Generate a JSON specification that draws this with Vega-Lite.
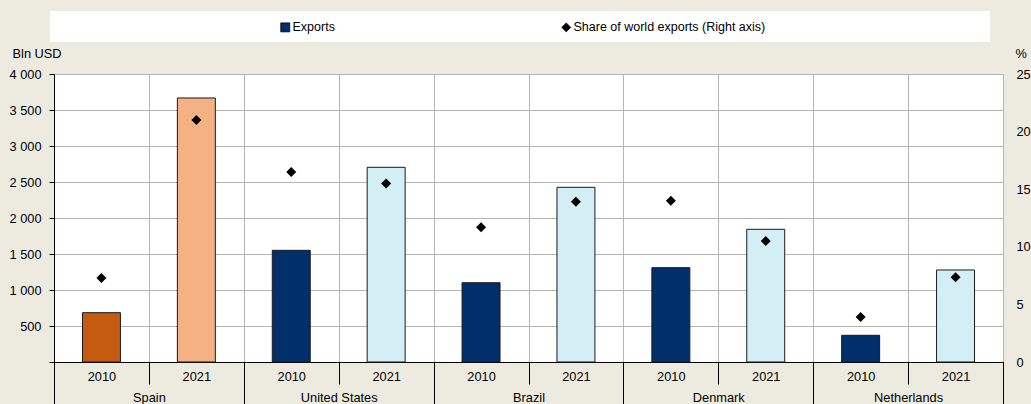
{
  "$schema": "https://vega.github.io/schema/vega-lite/v6.json",
  "width": 949,
  "height": 288,
  "autosize": {"type": "none"},
  "padding": {"left": 54, "top": 74, "right": 28, "bottom": 42},
  "background": "#EDEBE0",
  "config": {
    "font": "Liberation Sans",
    "view": {"fill": "white", "stroke": "#A6A6A6", "strokeWidth": 1},
    "axis": {"labelFont": "Liberation Sans", "labelFontSize": 12.8, "labelColor": "#000", "titleFont": "Liberation Sans", "titleFontSize": 12.8, "titleFontWeight": "normal", "titleColor": "#000"}
  },
  "data": {"values": [
    {"country": "Spain", "year": "2010", "key": "Spain|2010", "cat": "Spain 2010", "exports": 685, "share": 7.3},
    {"country": "Spain", "year": "2021", "key": "Spain|2021", "cat": "Spain 2021", "exports": 3667, "share": 21.0},
    {"country": "United States", "year": "2010", "key": "United States|2010", "cat": "2010", "exports": 1551, "share": 16.5},
    {"country": "United States", "year": "2021", "key": "United States|2021", "cat": "2021", "exports": 2704, "share": 15.5},
    {"country": "Brazil", "year": "2010", "key": "Brazil|2010", "cat": "2010", "exports": 1101, "share": 11.7},
    {"country": "Brazil", "year": "2021", "key": "Brazil|2021", "cat": "2021", "exports": 2426, "share": 13.9},
    {"country": "Denmark", "year": "2010", "key": "Denmark|2010", "cat": "2010", "exports": 1310, "share": 14.0},
    {"country": "Denmark", "year": "2021", "key": "Denmark|2021", "cat": "2021", "exports": 1843, "share": 10.5},
    {"country": "Netherlands", "year": "2010", "key": "Netherlands|2010", "cat": "2010", "exports": 371, "share": 3.9},
    {"country": "Netherlands", "year": "2021", "key": "Netherlands|2021", "cat": "2021", "exports": 1278, "share": 7.35}
  ]},
  "layer": [
    {
      "mark": {"type": "bar", "width": {"band": 0.4}, "stroke": "#1a1a1a", "strokeWidth": 1},
      "encoding": {
        "x": {
          "field": "key", "type": "nominal",
          "scale": {"type": "band", "paddingInner": 0, "paddingOuter": 0, "domain": ["Spain|2010", "Spain|2021", "United States|2010", "United States|2021", "Brazil|2010", "Brazil|2021", "Denmark|2010", "Denmark|2021", "Netherlands|2010", "Netherlands|2021"]},
          "axis": {
            "title": null, "orient": "bottom", "labelAngle": 0,
            "labelExpr": "split(datum.label, '|')[1]",
            "tickBand": "extent", "grid": true, "gridColor": "#B4B4B4", "gridWidth": 1,
            "domain": true, "domainColor": "#000", "domainWidth": 1,
            "ticks": true, "tickColor": "#000", "tickSize": 22, "tickWidth": 1,
            "labelBaseline": "alphabetic", "labelPadding": -3.5
          }
        },
        "y": {
          "field": "exports", "type": "quantitative",
          "scale": {"domain": [0, 4000], "nice": false, "zero": true},
          "axis": {
            "orient": "left", "title": "Bln USD", "titleAngle": 0, "titleAlign": "left", "titleBaseline": "middle", "titleX": -42, "titleY": -21,
            "values": [0, 500, 1000, 1500, 2000, 2500, 3000, 3500, 4000],
            "labelExpr": "datum.value == 0 ? '' : replace(format(datum.value, ','), ',', ' ')",
            "grid": true, "gridColor": "#B4B4B4", "gridWidth": 1,
            "domain": true, "domainColor": "#000", "ticks": true, "tickColor": "#000", "tickSize": 5,
            "labelPadding": 8
          }
        },
        "fill": {
          "field": "cat", "type": "nominal",
          "scale": {"domain": ["Spain 2010", "Spain 2021", "2010", "2021"], "range": ["#C55A11", "#F4B183", "#002F6C", "#D3EEF4"]},
          "legend": null
        }
      }
    },
    {
      "mark": {"type": "point", "filled": true, "size": 100, "opacity": 1},
      "encoding": {
        "x": {
          "field": "key", "type": "nominal",
          "scale": {"type": "band", "paddingInner": 0, "paddingOuter": 0, "domain": ["Spain|2010", "Spain|2021", "United States|2010", "United States|2021", "Brazil|2010", "Brazil|2021", "Denmark|2010", "Denmark|2021", "Netherlands|2010", "Netherlands|2021"]},
          "axis": null
        },
        "y": {
          "field": "share", "type": "quantitative",
          "scale": {"domain": [0, 25], "nice": false},
          "axis": {
            "orient": "right", "title": "%", "titleAngle": 0, "titleAlign": "left", "titleBaseline": "middle", "titleX": 12, "titleY": -21,
            "values": [0, 5, 10, 15, 20, 25], "grid": false, "domain": false, "ticks": false, "labelPadding": 13
          }
        },
        "color": {
          "datum": "Share of world exports (Right axis)",
          "scale": {"domain": ["Exports", "Share of world exports (Right axis)"], "range": ["#002F6C", "#000000"]},
          "legend": {
            "title": null, "orient": "none", "legendX": 225, "legendY": -53, "direction": "horizontal",
            "padding": 0, "columnPadding": 225, "zindex": 1,
            "labelFont": "Liberation Sans", "labelFontSize": 12.5, "labelColor": "#000", "labelLimit": 400, "labelOffset": 1,
            "symbolSize": 80, "symbolStrokeColor": "#000", "symbolStrokeWidth": 0.8
          }
        },
        "shape": {
          "datum": "Share of world exports (Right axis)",
          "scale": {"domain": ["Exports", "Share of world exports (Right axis)"], "range": ["square", "diamond"]},
          "legend": {
            "title": null, "orient": "none", "legendX": 225, "legendY": -53, "direction": "horizontal",
            "padding": 0, "columnPadding": 225, "zindex": 1,
            "labelFont": "Liberation Sans", "labelFontSize": 12.5, "labelColor": "#000", "labelLimit": 400, "labelOffset": 1,
            "symbolSize": 80, "symbolStrokeColor": "#000", "symbolStrokeWidth": 0.8
          }
        }
      }
    },
    {
      "mark": {"type": "rule", "strokeOpacity": 0},
      "encoding": {
        "x": {
          "field": "country", "type": "nominal",
          "scale": {"type": "band", "paddingInner": 0, "paddingOuter": 0, "domain": ["Spain", "United States", "Brazil", "Denmark", "Netherlands"]},
          "axis": {
            "title": null, "orient": "bottom", "labelAngle": 0,
            "tickBand": "extent", "grid": false, "domain": false,
            "ticks": true, "tickColor": "#000", "tickSize": 44, "tickWidth": 1,
            "labelBaseline": "alphabetic", "labelPadding": -4.5
          }
        },
        "stroke": {
          "datum": 0, "type": "quantitative",
          "scale": {"domain": [0, 1], "range": ["#FFFFFF", "#FFFFFF"]},
          "legend": {
            "title": null, "orient": "none", "legendX": -4, "legendY": -63, "direction": "horizontal",
            "padding": 0, "zindex": 0,
            "gradientLength": 940, "gradientThickness": 31,
            "gradientStrokeColor": "#FFFFFF", "gradientStrokeWidth": 0,
            "labelExpr": "''", "labelOpacity": 0
          }
        }
      }
    }
  ],
  "resolve": {
    "scale": {"x": "independent", "y": "independent"},
    "axis": {"x": "independent", "y": "independent"}
  }
}
